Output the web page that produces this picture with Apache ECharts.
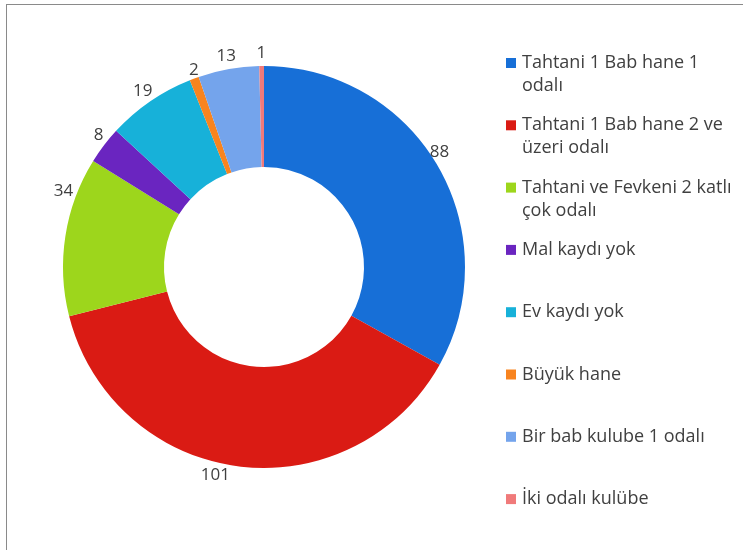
<!DOCTYPE html>
<html>
<head>
<meta charset="utf-8">
<script src="https://cdn.jsdelivr.net/npm/echarts@6/dist/echarts.min.js"></script>
<style>
  html, body { margin: 0; padding: 0; background: #ffffff; }
  #frame { position: absolute; left: 6px; top: 4px; width: 760px; height: 560px;
           border-left: 1.5px solid #8a8a8a; border-top: 1.5px solid #8a8a8a; }
  #chart { position: absolute; left: 0; top: 0; width: 743px; height: 550px; }
</style>
</head>
<body>
<div id="frame"></div>
<div id="chart"></div>
<script>
// ---- data ----
const categories = [
  'Tahtani 1 Bab hane 1 odalı',
  'Tahtani 1 Bab hane 2 ve üzeri odalı',
  'Tahtani ve Fevkeni 2 katlı çok odalı',
  'Mal kaydı yok',
  'Ev kaydı yok',
  'Büyük hane',
  'Bir bab kulube 1 odalı',
  'İki odalı kulübe'
];
const values = [88, 101, 34, 8, 19, 2, 13, 1];
// legend line breaks as shown in the reference
const legendLines = [
  ['Tahtani 1 Bab hane 1', 'odalı'],
  ['Tahtani 1 Bab hane 2 ve', 'üzeri odalı'],
  ['Tahtani ve Fevkeni 2 katlı', 'çok odalı'],
  ['Mal kaydı yok', ''],
  ['Ev kaydı yok', ''],
  ['Büyük hane', ''],
  ['Bir bab kulube 1 odalı', ''],
  ['İki odalı kulübe', '']
];

// ---- styles ----
const colors = ['#176FD7', '#DA1B14', '#9DD61C', '#6A25C0', '#17B1D9', '#F8841F', '#74A4EC', '#F07A7A'];
const labelNudge = { 0: [-9, -6], 1: [-21, -4], 2: [11, -43], 3: [5, -2], 5: [4, 4] }; // manual label moves seen in the reference
const FONT = '"Open Sans", Lato, sans-serif';

const seriesData = categories.map((c, i) => ({ name: c, value: values[i] }));

const rich = {
  t: { fontSize: 18, lineHeight: 23, color: '#404040', fontFamily: FONT },
  g: { width: 6, height: 10, lineHeight: 23 },
  s: { width: 16, height: 10, lineHeight: 23 }
};
colors.forEach((col, i) => {
  rich['m' + i] = { width: 10, height: 10, lineHeight: 23, backgroundColor: col };
});

const chart = echarts.init(document.getElementById('chart'), null, { renderer: 'canvas' });
chart.setOption({
  animation: false,
  backgroundColor: 'transparent',
  color: colors,
  legend: {
    orient: 'vertical',
    left: 501,
    top: 54,
    padding: 0,
    itemGap: 21.3,
    itemWidth: 0,
    itemHeight: 0,
    icon: 'none',
    selectedMode: false,
    data: categories,
    textStyle: { fontFamily: FONT, fontSize: 18, color: '#404040', rich: rich },
    formatter: function (name) {
      const i = categories.indexOf(name);
      const l = legendLines[i];
      return '{m' + i + '| }{g| }{t|' + l[0] + '}\n{s| }{t|' + (l[1] || ' ') + '}';
    }
  },
  series: [
    {
      type: 'pie',
      center: [264, 267],
      radius: [100, 201],
      startAngle: 90,
      clockwise: true,
      avoidLabelOverlap: false,
      label: { show: false },
      labelLine: { show: false },
      itemStyle: { borderWidth: 0 },
      emphasis: { disabled: true },
      data: seriesData
    },
    {
      type: 'pie',
      center: [264, 267],
      radius: [201, 221],
      startAngle: 90,
      clockwise: true,
      silent: true,
      avoidLabelOverlap: false,
      itemStyle: { color: 'rgba(0,0,0,0)', borderWidth: 0 },
      emphasis: { disabled: true },
      label: {
        show: true,
        position: 'inside',
        formatter: '{c}',
        fontFamily: FONT,
        fontSize: 17,
        color: '#404040',
        rotate: 0
      },
      labelLine: { show: false },
      labelLayout: function (p) {
        const n = labelNudge[p.dataIndex];
        return n ? { dx: n[0], dy: n[1] } : {};
      },
      data: seriesData
    }
  ]
});
</script>
</body>
</html>
